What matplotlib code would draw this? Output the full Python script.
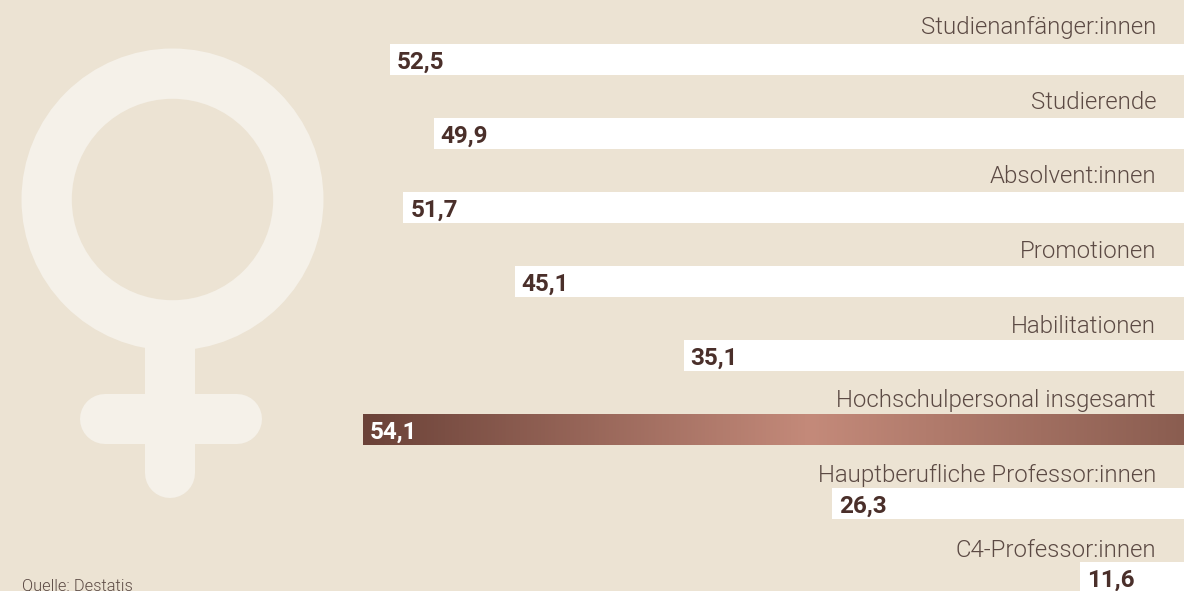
import numpy as np
import matplotlib.pyplot as plt
from matplotlib.colors import LinearSegmentedColormap
from matplotlib.patches import Circle
from matplotlib.transforms import offset_copy

categories = ['Studienanfänger:innen', 'Studierende', 'Absolvent:innen', 'Promotionen',
              'Habilitationen', 'Hochschulpersonal insgesamt',
              'Hauptberufliche Professor:innen', 'C4-Professor:innen']
values = [52.5, 49.9, 51.7, 45.1, 35.1, 54.1, 26.3, 11.6]
highlight = 5

bg = '#ECE3D3'
icon = '#F5F1E9'
dark = '#4A2F2A'
label_col = '#5C4A44'

W, H = 1184, 591
plt.rcParams['font.family'] = ['Roboto', 'DejaVu Sans']

fig = plt.figure(figsize=(W / 100, H / 100), dpi=100, facecolor=bg)

# venus symbol, drawn in pixel coordinates
ax_icon = fig.add_axes([0, 0, 1, 1])
ax_icon.set_xlim(0, W)
ax_icon.set_ylim(H, 0)
ax_icon.axis('off')
ax_icon.plot([170, 170], [335, 473], color=icon, lw=36, solid_capstyle='round')
ax_icon.plot([105, 237], [419, 419], color=icon, lw=36, solid_capstyle='round')
ax_icon.add_patch(Circle((172.5, 199.5), 151, fc=icon, ec='none'))
ax_icon.add_patch(Circle((172.5, 199.5), 100.7, fc=bg, ec='none'))
ax_icon.text(22, 590, 'Quelle: Destatis', fontsize=11.8, color=label_col, fontweight=300, ha='left', va='baseline')

# the value axis runs right to left, its zero lies past the right edge
ax = fig.add_axes([0, 0, 1, 1])
ax.patch.set_alpha(0)
ypos = np.arange(len(values))
bars = ax.barh(ypos, values, height=0.419, color='white', linewidth=0)
xlim = (75.62, 5.43)
ylim = (7.182, -0.804)

# gradient for the highlighted bar
cmap = LinearSegmentedColormap.from_list('grad', [(0, '#6B4238'), (0.49, '#C48A7A'), (1, '#7C5246')])
b = bars[highlight]
b.set_facecolor('none')
im = ax.imshow(np.linspace(0, 1, 512).reshape(1, -1), cmap=cmap, aspect='auto',
               extent=(values[highlight], 0, highlight + 0.2095, highlight - 0.2095), zorder=2)
im.set_clip_path(b)

ax.set_xlim(xlim)
ax.set_ylim(ylim)
ax.axis('off')

val_trans = offset_copy(ax.transData, fig=fig, x=5, y=-6.9, units='points')
for i, (cat, v) in enumerate(zip(categories, values)):
    ax_icon.text(1156, 34 + 74.7 * i, cat, ha='right', va='baseline',
                 fontsize=17.3, color=label_col, fontweight=300)
    ax.text(v, i, f'{v:.1f}'.replace('.', ','), transform=val_trans, ha='left', va='baseline',
            fontsize=17.5, fontweight='bold', color='white' if i == highlight else dark, zorder=3)

fig.savefig('out.png', dpi=100, facecolor=bg)
